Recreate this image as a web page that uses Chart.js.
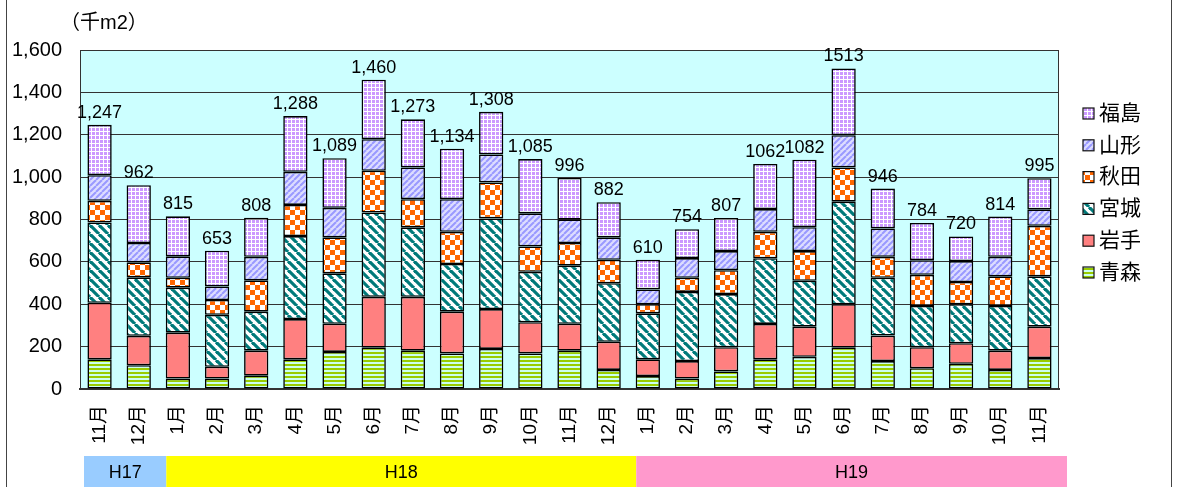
<!DOCTYPE html>
<html lang="ja">
<head>
<meta charset="utf-8">
<title>着工床面積</title>
<script src="https://cdn.jsdelivr.net/npm/chart.js@4.4.1/dist/chart.umd.min.js"></script>
<style>
  html, body { margin: 0; padding: 0; background: #fff; }
  #wrap { position: relative; width: 1180px; height: 487px; }
</style>
</head>
<body>
<div id="wrap"><canvas id="chart" width="1180" height="487"></canvas></div>
<script>
'use strict';

/* ---- Data ---- */
const months = ['11月', '12月', '1月', '2月', '3月', '4月', '5月', '6月', '7月', '8月', '9月', '10月', '11月',
  '12月', '1月', '2月', '3月', '4月', '5月', '6月', '7月', '8月', '9月', '10月', '11月'];

const aomori    = [140, 112, 49, 49, 63, 140, 175, 195, 181, 168, 189, 168, 181, 90, 61, 49, 83, 140, 152, 195, 132, 98, 119, 90, 146];
const iwate     = [267, 139, 217, 56, 118, 190, 133, 240, 254, 197, 188, 147, 127, 133, 79, 83, 114, 167, 142, 205, 120, 99, 97, 91, 148];
const miyagi    = [379, 276, 212, 245, 184, 392, 238, 398, 328, 225, 428, 238, 274, 276, 217, 326, 251, 310, 217, 484, 273, 195, 184, 211, 238];
const akita     = [102, 71, 47, 70, 148, 147, 170, 197, 133, 152, 170, 120, 107, 111, 43, 67, 113, 125, 140, 162, 99, 147, 105, 140, 238];
const yamagata  = [121, 91, 101, 64, 111, 156, 139, 149, 150, 154, 132, 156, 111, 106, 70, 93, 90, 107, 113, 152, 134, 69, 99, 92, 78];
const fukushima = [238, 273, 189, 169, 184, 263, 234, 281, 227, 238, 201, 256, 196, 166, 140, 136, 156, 213, 318, 315, 188, 176, 116, 190, 147];

const totalLabels = ['1,247', '962', '815', '653', '808', '1,288', '1,089', '1,460', '1,273', '1,134', '1,308', '1,085', '996',
  '882', '610', '754', '807', '1062', '1082', '1513', '946', '784', '720', '814', '995'];

const eraNames = ['H17', 'H18', 'H19'];
const eraSpans = [2, 12, 11];
const eraColors = ['#99ccff', '#ffff00', '#ff99cc'];

const yTicks = [0, 200, 400, 600, 800, 1000, 1200, 1400, 1600];
const unitLabel = '（千m2）';

/* ---- Fill patterns ---- */
function makePattern(size, draw) {
  const c = document.createElement('canvas');
  c.width = size; c.height = size;
  const g = c.getContext('2d');
  draw(g, size);
  return g.createPattern(c, 'repeat');
}

const patGrid = makePattern(4, (g, s) => {          // 福島
  g.fillStyle = '#cc99ff'; g.fillRect(0, 0, s, s);
  g.fillStyle = '#ffffff'; g.fillRect(0, 3, s, 1); g.fillRect(3, 0, 1, s);
});
const patFwd = makePattern(6, (g, s) => {           // 山形
  g.fillStyle = '#ddddff'; g.fillRect(0, 0, s, s);
  g.strokeStyle = '#9999ff'; g.lineWidth = 2;
  for (let k = -1; k <= 1; k++) {
    g.beginPath(); g.moveTo(k * s, s); g.lineTo(k * s + s, 0); g.stroke();
  }
});
const patCheck = makePattern(10, (g, s) => {        // 秋田
  g.fillStyle = '#ffffff'; g.fillRect(0, 0, s, s);
  g.fillStyle = '#ff6600'; g.fillRect(0, 0, s / 2, s / 2); g.fillRect(s / 2, s / 2, s / 2, s / 2);
});
const patBack = makePattern(9, (g, s) => {          // 宮城
  g.fillStyle = '#ffffff'; g.fillRect(0, 0, s, s);
  g.strokeStyle = '#007a7a'; g.lineWidth = 3.2;
  for (let k = -1; k <= 1; k++) {
    g.beginPath(); g.moveTo(k * s, 0); g.lineTo(k * s + s, s); g.stroke();
  }
});
const patHoriz = makePattern(4, (g, s) => {         // 青森
  g.fillStyle = '#ccffee'; g.fillRect(0, 0, s, s);
  g.fillStyle = '#99cc00'; g.fillRect(0, 0, s, 2);
});

const FONT = "'Liberation Sans', Arial, 'Noto Sans CJK JP', sans-serif";
Chart.defaults.font.family = FONT;
Chart.defaults.color = '#000';

function series(label, data, fill) {
  return {
    label, data,
    backgroundColor: fill,
    borderColor: '#000',
    borderWidth: 1.6,
    borderSkipped: false,
    barPercentage: 0.62,
    categoryPercentage: 1
  };
}

/* ---- Decorations ---- */
const decor = {
  id: 'decor',
  beforeDraw(chart) {
    const { ctx, chartArea: a } = chart;
    ctx.save();
    ctx.fillStyle = '#ccffff';
    ctx.fillRect(a.left, a.top, a.right - a.left, a.bottom - a.top);
    ctx.restore();
  },
  afterDatasetsDraw(chart) {
    const { ctx, chartArea: a } = chart;
    ctx.save();
    // plot frame
    ctx.strokeStyle = '#333';
    ctx.lineWidth = 1;
    ctx.strokeRect(a.left + 0.5, a.top + 0.5, a.right - a.left - 1, a.bottom - a.top);

    // totals above bars
    const top = chart.getDatasetMeta(chart.data.datasets.length - 1);
    ctx.fillStyle = '#000';
    ctx.font = '18px ' + FONT;
    ctx.textAlign = 'center';
    ctx.textBaseline = 'bottom';
    top.data.forEach((bar, i) => ctx.fillText(totalLabels[i], bar.x, bar.y - 3));

    // unit
    ctx.textAlign = 'left';
    ctx.textBaseline = 'middle';
    ctx.font = '20px ' + FONT;
    ctx.fillText(unitLabel, 60, 23);

    // era bands
    const xs = chart.scales.x;
    const step = xs.getPixelForValue(1) - xs.getPixelForValue(0);
    let idx = 0;
    eraNames.forEach((name, k) => {
      const x0 = xs.getPixelForValue(idx) - step / 2 + (k === 0 ? 4 : 8);
      const x1 = xs.getPixelForValue(idx + eraSpans[k] - 1) + step / 2 + 8;
      ctx.fillStyle = eraColors[k];
      ctx.fillRect(x0, 456, x1 - x0, 31);
      ctx.fillStyle = '#000';
      ctx.font = '18px ' + FONT;
      ctx.textAlign = 'center';
      ctx.fillText(name, (x0 + x1) / 2, 473);
      idx += eraSpans[k];
    });

    // legend
    const ds = chart.data.datasets;
    ctx.font = '21px ' + FONT;
    ctx.textAlign = 'left';
    for (let j = ds.length - 1, row = 0; j >= 0; j--, row++) {
      const cy = 113 + row * 31.8;
      ctx.fillStyle = ds[j].backgroundColor;
      ctx.fillRect(1083, cy - 5, 11, 11);
      ctx.strokeStyle = '#111';
      ctx.lineWidth = 1.2;
      ctx.strokeRect(1083, cy - 5, 11, 11);
      ctx.fillStyle = '#000';
      ctx.fillText(ds[j].label, 1099, cy + 1);
    }

    // outer frame
    ctx.strokeStyle = '#444';
    ctx.lineWidth = 1;
    ctx.beginPath();
    ctx.moveTo(6.5, 0); ctx.lineTo(6.5, 487);
    ctx.moveTo(1171.5, 0); ctx.lineTo(1171.5, 487);
    ctx.stroke();
    ctx.restore();
  }
};

new Chart(document.getElementById('chart'), {
  type: 'bar',
  data: {
    labels: months,
    datasets: [
      series('青森', aomori, patHoriz),
      series('岩手', iwate, '#ff8080'),
      series('宮城', miyagi, patBack),
      series('秋田', akita, patCheck),
      series('山形', yamagata, patFwd),
      series('福島', fukushima, patGrid)
    ]
  },
  options: {
    responsive: false,
    animation: false,
    layout: { padding: { top: 50, right: 121, bottom: 38, left: 0 } },
    plugins: { legend: { display: false }, tooltip: { enabled: false } },
    scales: {
      x: {
        stacked: true,
        grid: { display: false },
        border: { color: '#333', width: 2 },
        ticks: { minRotation: 90, maxRotation: 90, padding: 8, font: { size: 19 }, color: '#000' },
        afterFit(s) { s.height = 60; }
      },
      y: {
        stacked: true,
        min: 0, max: 1600,
        afterBuildTicks(s) { s.ticks = yTicks.map(v => ({ value: v })); },
        grid: { color: '#333', lineWidth: 1, drawTicks: false },
        border: { color: '#333', width: 1 },
        ticks: {
          padding: 18,
          font: { size: 20 },
          color: '#000',
          callback: v => v.toLocaleString('en-US')
        },
        afterFit(s) { s.width = 80; }
      }
    }
  },
  plugins: [decor]
});
</script>
</body>
</html>
